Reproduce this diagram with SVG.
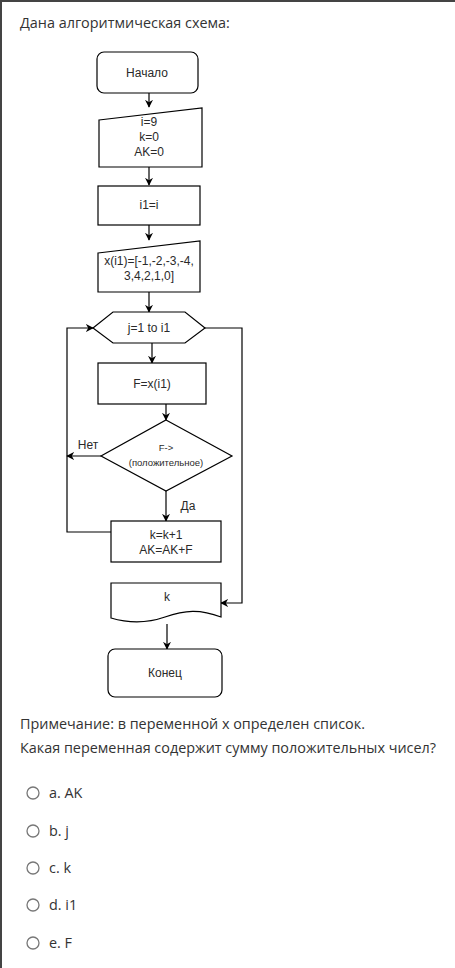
<svg xmlns="http://www.w3.org/2000/svg" width="455" height="968" viewBox="0 0 455 968">
<defs>
<marker id="ah" viewBox="0 0 10 10" refX="9" refY="5" markerWidth="8" markerHeight="8" markerUnits="userSpaceOnUse" orient="auto">
<path d="M0,0 L10,5 L0,10 L3,5 Z" fill="#000"/>
</marker>
<style>
.page{font-family:"Open Sans","Liberation Sans",sans-serif;fill:#333;font-size:14.4px}
.shape{fill:#fff;stroke:#000;stroke-width:1.2}
.lbl{font-family:"Liberation Sans",Arial,sans-serif;fill:#2a2a2a;font-size:12px;text-anchor:middle}
.sm{font-size:9.5px}
.conn{fill:none;stroke:#000;stroke-width:1.2}
.radio{fill:#fff;stroke:#777;stroke-width:1.3}
</style>
</defs>
<rect width="455" height="968" fill="#fff"/>
<line x1="0" y1="1" x2="455" y2="1" stroke="#444" stroke-width="2"/>
<line x1="1" y1="0" x2="1" y2="968" stroke="#444" stroke-width="2"/>
<text class="page" x="20" y="28">Дана алгоритмическая схема:</text>

<g id="connectors">
<path class="conn" d="M149,93 V107" marker-end="url(#ah)"/>
<path class="conn" d="M149,167 V185" marker-end="url(#ah)"/>
<path class="conn" d="M149,225 V240" marker-end="url(#ah)"/>
<path class="conn" d="M149,292 V312" marker-end="url(#ah)"/>
<path class="conn" d="M152,343 V363" marker-end="url(#ah)"/>
<path class="conn" d="M166,404 V420" marker-end="url(#ah)"/>
<path class="conn" d="M166,491 V521" marker-end="url(#ah)"/>
<path class="conn" d="M101,456 H67" marker-end="url(#ah)"/>
<path class="conn" d="M111,532 H67 V328 H93" marker-end="url(#ah)"/>
<path class="conn" d="M205,328 H242 V603 H221" marker-end="url(#ah)"/>
<path class="conn" d="M167,624 V649" marker-end="url(#ah)"/>
<text class="lbl" x="88" y="449">Нет</text>
<text class="lbl" x="188" y="510">Да</text>
</g>

<g id="start">
<rect class="shape" x="97" y="52" width="101" height="41" rx="7"/>
<text class="lbl" x="147" y="77">Начало</text>
</g>
<g id="input1">
<polygon class="shape" points="99,120 202,108 202,167 99,167"/>
<text class="lbl" x="149" y="126">i=9</text>
<text class="lbl" x="149" y="141">k=0</text>
<text class="lbl" x="149" y="156">AK=0</text>
</g>
<g id="assign1">
<rect class="shape" x="98" y="186" width="102" height="39"/>
<text class="lbl" x="149" y="209">i1=i</text>
</g>
<g id="input2">
<polygon class="shape" points="98,253 200,241 200,292 98,292"/>
<text class="lbl" x="149" y="265">x(i1)=[-1,-2,-3,-4,</text>
<text class="lbl" x="149" y="280">3,4,2,1,0]</text>
</g>
<g id="loop">
<polygon class="shape" points="93,328 113,312 185,312 205,328 185,343 113,343"/>
<text class="lbl" x="149" y="332">j=1 to i1</text>
</g>
<g id="assignF">
<rect class="shape" x="98" y="363" width="108" height="41"/>
<text class="lbl" x="152" y="388">F=x(i1)</text>
</g>
<g id="decision">
<polygon class="shape" points="166,420 232,456 166,491 101,456"/>
<text class="lbl sm" x="166" y="451">F-&gt;</text>
<text class="lbl sm" x="166" y="466">(положительное)</text>
</g>
<g id="update">
<rect class="shape" x="111" y="521" width="110" height="41"/>
<text class="lbl" x="166" y="539">k=k+1</text>
<text class="lbl" x="166" y="554">AK=AK+F</text>
</g>
<g id="output">
<path class="shape" d="M111,583 H221 V617 C200,609 185,610 165,617 C145,624 128,623 111,618 Z"/>
<text class="lbl" x="167" y="601">k</text>
</g>
<g id="end">
<rect class="shape" x="108" y="649" width="114" height="48" rx="7"/>
<text class="lbl" x="165" y="677">Конец</text>
</g>

<text class="page" x="20" y="729">Примечание: в переменной х определен список.</text>
<text class="page" x="20" y="753">Какая переменная содержит сумму положительных чисел?</text>

<g id="options">
<circle class="radio" cx="33" cy="793" r="6"/>
<text class="page" x="49" y="798">a. AK</text>
<circle class="radio" cx="33" cy="831" r="6"/>
<text class="page" x="49" y="836">b. j</text>
<circle class="radio" cx="33" cy="868" r="6"/>
<text class="page" x="49" y="873">c. k</text>
<circle class="radio" cx="33" cy="905" r="6"/>
<text class="page" x="49" y="910">d. i1</text>
<circle class="radio" cx="33" cy="943" r="6"/>
<text class="page" x="49" y="948">e. F</text>
</g>
</svg>
